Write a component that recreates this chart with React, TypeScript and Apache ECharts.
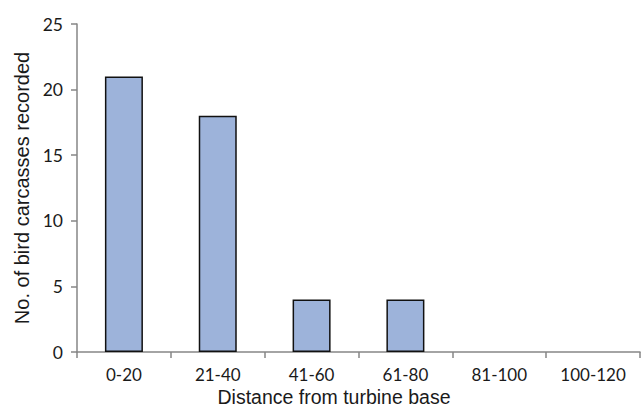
import React, { useEffect, useRef } from "react";
import * as echarts from "echarts";

const categories = ["0-20", "21-40", "41-60", "61-80", "81-100", "100-120"];
const carcasses = [21, 18, 4, 4, 0, 0];
const yTicks = { min: 0, max: 25, interval: 5 };

export default function App() {
  const ref = useRef<HTMLDivElement>(null);
  useEffect(() => {
    if (!ref.current) return;
    const chart = echarts.init(ref.current, null, { renderer: "svg" });
    const barData = carcasses.map((v) => ({
      value: v,
      itemStyle: v === 0 ? { borderWidth: 0, opacity: 0 } : undefined,
    }));
    chart.setOption({
      animation: false,
      backgroundColor: "#ffffff",
      grid: { left: 77, right: 1, top: 24, bottom: 57 },
      xAxis: {
        type: "category",
        data: categories,
        axisLine: { lineStyle: { color: "#868686", width: 1.5 } },
        axisTick: { show: true, length: 6, lineStyle: { color: "#868686", width: 1.5 } },
        axisLabel: { color: "#1a1a1a", fontFamily: "Lato", fontSize: 17, margin: 14 },
      },
      yAxis: {
        type: "value",
        min: yTicks.min,
        max: yTicks.max,
        interval: yTicks.interval,
        splitLine: { show: false },
        axisLine: { show: true, lineStyle: { color: "#868686", width: 1.5 } },
        axisTick: { show: true, length: 6, lineStyle: { color: "#868686", width: 1.5 } },
        axisLabel: { color: "#1a1a1a", fontFamily: "Lato", fontSize: 17.5, margin: 14 },
        name: "No. of bird carcasses recorded",
        nameLocation: "middle",
        nameGap: 45,
        nameTextStyle: { color: "#1a1a1a", fontFamily: "Liberation Sans", fontSize: 20 },
      },
      graphic: [
        {
          type: "text",
          x: 334,
          y: 397,
          style: {
            text: "Distance from turbine base",
            fill: "#1a1a1a",
            font: '19.5px "Liberation Sans"',
            align: "center",
            verticalAlign: "middle",
          },
        },
      ],
      series: [
        {
          type: "bar",
          data: barData,
          barWidth: 38,
          itemStyle: { color: "#9DB3DA", borderColor: "#111", borderWidth: 1.5 },
        },
      ],
    });
    return () => chart.dispose();
  }, []);
  return (
    <div
      ref={ref}
      style={{ position: "absolute", left: 0, top: 0, width: 641, height: 409 }}
    />
  );
}
